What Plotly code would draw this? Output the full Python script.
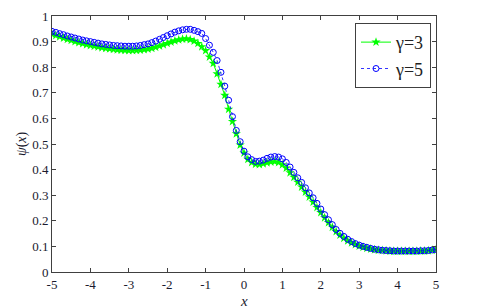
import plotly.graph_objects as go

x_vals = [round(-5 + 0.1 * i, 1) for i in range(101)]

psi_gamma3 = [
    0.929, 0.924, 0.919, 0.914, 0.909, 0.905, 0.900, 0.896, 0.892, 0.888,
    0.885, 0.882, 0.879, 0.876, 0.874, 0.872, 0.870, 0.868, 0.867, 0.866,
    0.865, 0.865, 0.866, 0.867, 0.869, 0.871, 0.874, 0.878, 0.883, 0.888,
    0.893, 0.898, 0.903, 0.907, 0.910, 0.911, 0.908, 0.902, 0.893, 0.880,
    0.865, 0.840, 0.815, 0.774, 0.733, 0.690, 0.636, 0.588, 0.540, 0.496,
    0.465, 0.440, 0.428, 0.421, 0.420, 0.423, 0.427, 0.430, 0.431, 0.428,
    0.419, 0.406, 0.388, 0.370, 0.351, 0.332, 0.312, 0.293, 0.273, 0.252,
    0.232, 0.212, 0.193, 0.175, 0.158, 0.144, 0.132, 0.122, 0.114, 0.107,
    0.101, 0.097, 0.093, 0.090, 0.087, 0.085, 0.084, 0.083, 0.082, 0.081,
    0.081, 0.081, 0.081, 0.081, 0.081, 0.081, 0.082, 0.082, 0.083, 0.085,
    0.087,
]

psi_gamma5 = [
    0.940, 0.936, 0.931, 0.927, 0.922, 0.918, 0.914, 0.910, 0.906, 0.903,
    0.900, 0.897, 0.894, 0.891, 0.889, 0.887, 0.885, 0.884, 0.883, 0.882,
    0.882, 0.882, 0.883, 0.885, 0.888, 0.891, 0.896, 0.902, 0.909, 0.916,
    0.923, 0.930, 0.937, 0.942, 0.946, 0.948, 0.948, 0.944, 0.939, 0.932,
    0.912, 0.886, 0.858, 0.826, 0.780, 0.726, 0.671, 0.607, 0.553, 0.509,
    0.472, 0.450, 0.439, 0.432, 0.433, 0.437, 0.444, 0.449, 0.451, 0.449,
    0.442, 0.428, 0.410, 0.389, 0.368, 0.350, 0.329, 0.309, 0.290, 0.268,
    0.246, 0.224, 0.204, 0.185, 0.166, 0.151, 0.139, 0.128, 0.119, 0.111,
    0.105, 0.100, 0.096, 0.092, 0.089, 0.087, 0.085, 0.084, 0.083, 0.082,
    0.082, 0.082, 0.082, 0.082, 0.082, 0.082, 0.083, 0.083, 0.084, 0.086,
    0.088,
]

x_ticks = [-5, -4, -3, -2, -1, 0, 1, 2, 3, 4, 5]
y_ticks = [0, 0.1, 0.2, 0.3, 0.4, 0.5, 0.6, 0.7, 0.8, 0.9, 1]
y_tick_text = ["0", "0.1", "0.2", "0.3", "0.4", "0.5", "0.6", "0.7", "0.8", "0.9", "1"]
x_tick_text = ["-5", "-4", "-3", "-2", "-1", "0", "1", "2", "3", "4", "5"]

FONT = "Liberation Serif"

fig = go.Figure()
fig.add_trace(go.Scatter(
    x=x_vals, y=psi_gamma3, mode="lines+markers", name="γ=3",
    line=dict(color="#00ff00", width=1),
    marker=dict(symbol="star", size=7, color="#00ff00", line=dict(width=0)),
))
fig.add_trace(go.Scatter(
    x=x_vals, y=psi_gamma5, mode="lines+markers", name="γ=5",
    line=dict(color="#0000ff", width=0.8, dash="dot"),
    marker=dict(symbol="circle-open", size=6, color="#0000ff", line=dict(width=1)),
))

axis_common = dict(
    showgrid=False, zeroline=False, showline=True, linecolor="#404040", linewidth=1,
    mirror="ticks", ticks="inside", ticklen=4, tickcolor="#404040",
    tickfont=dict(family=FONT, size=13, color="#1a1a2e"),
)

fig.update_xaxes(range=[-5, 5], tickvals=x_ticks, ticktext=x_tick_text, **axis_common)
fig.update_yaxes(range=[0, 1], tickvals=y_ticks, ticktext=y_tick_text, **axis_common)

fig.update_layout(
    template="none",
    width=484, height=308,
    margin=dict(l=52, r=48, t=16, b=36),
    plot_bgcolor="white", paper_bgcolor="white",
    font=dict(family=FONT, color="#1a1a2e"),
    showlegend=True,
    legend=dict(
        x=0.987, y=0.973, xanchor="right", yanchor="top",
        bordercolor="#404040", borderwidth=1, bgcolor="white",
        font=dict(family=FONT, size=18, color="#222"),
        tracegroupgap=0, itemwidth=30,
    ),
    annotations=[
        dict(text="<i>x</i>", x=0.5, y=-0.113, xref="paper", yref="paper",
             showarrow=False, xanchor="center", yanchor="middle",
             font=dict(family=FONT, size=15, color="#1a1a2e")),
        dict(text="<i>ψ</i>(<i>x</i>)", x=-0.078, y=0.5, xref="paper", yref="paper",
             showarrow=False, textangle=-90, xanchor="center", yanchor="middle",
             font=dict(family=FONT, size=14, color="#1a1a2e")),
    ],
)

fig.write_html("out.html", config={"displayModeBar": False},
               post_script="document.body.style.margin='0';document.body.style.overflow='hidden';")
